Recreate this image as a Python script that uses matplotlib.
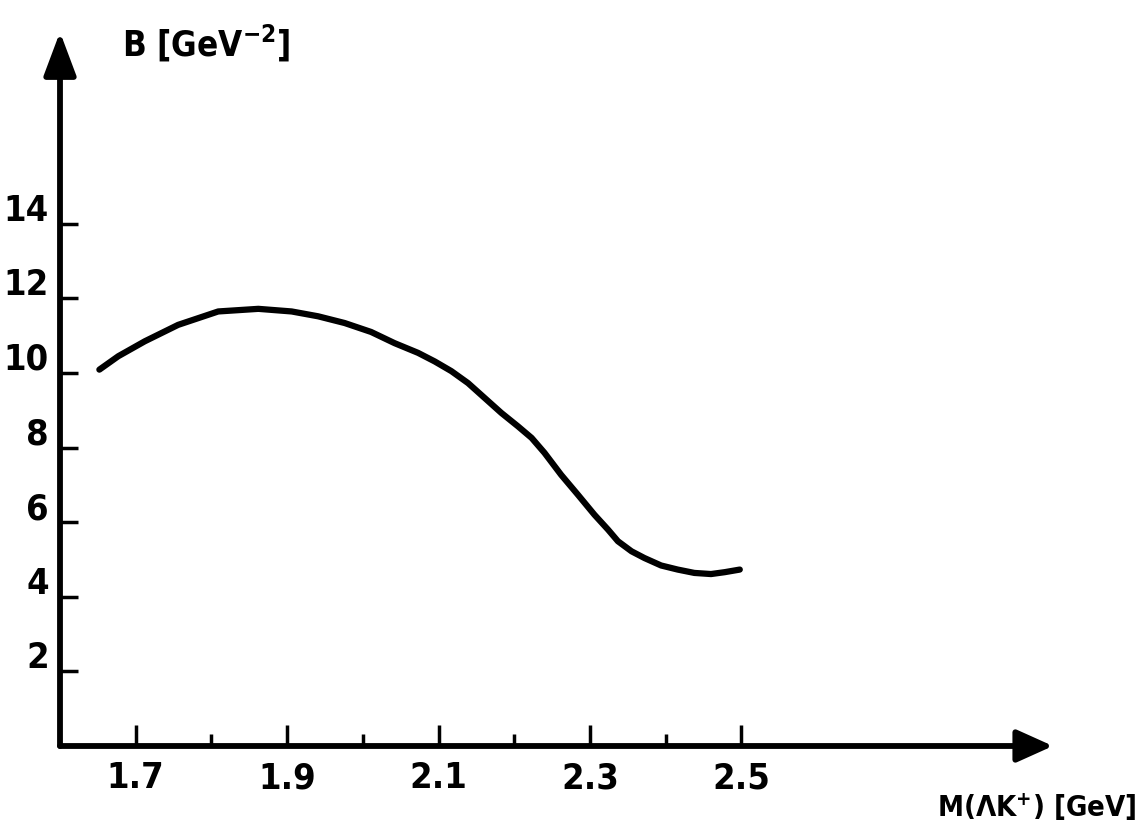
import matplotlib
matplotlib.use("Agg")
import matplotlib.pyplot as plt
from matplotlib.transforms import ScaledTranslation

# ---- data ----
mass = [1.652, 1.677, 1.712, 1.756, 1.809, 1.862, 1.906, 1.941, 1.976, 2.011,
        2.042, 2.073, 2.095, 2.117, 2.139, 2.161, 2.183, 2.205, 2.223, 2.240,
        2.262, 2.284, 2.306, 2.324, 2.337, 2.355, 2.372, 2.394, 2.416, 2.438,
        2.460, 2.478, 2.498]
slope_B = [10.09, 10.45, 10.85, 11.29, 11.65, 11.72, 11.65, 11.52, 11.34, 11.10,
           10.80, 10.54, 10.31, 10.05, 9.73, 9.33, 8.93, 8.57, 8.26, 7.86,
           7.27, 6.74, 6.20, 5.80, 5.49, 5.22, 5.04, 4.84, 4.73, 4.64,
           4.61, 4.66, 4.73]

x_major = [1.7, 1.9, 2.1, 2.3, 2.5]
x_major_labels = ["1.7", "1.9", "2.1", "2.3", "2.5"]
x_minor = [1.8, 2.0, 2.2, 2.4]
y_major = [2, 4, 6, 8, 10, 12, 14]
y_major_labels = ["2", "4", "6", "8", "10", "12", "14"]

plt.rcParams["font.family"] = ["DejaVu Sans"]
plt.rcParams["font.stretch"] = "condensed"
plt.rcParams["mathtext.fontset"] = "dejavusans"

W, H = 1145, 835
fig = plt.figure(figsize=(W / 100, H / 100), dpi=100)
fig.patch.set_facecolor("white")

left_px, right_px, bottom_px, top_px = 60, 1053, 746, 32
ax = fig.add_axes([left_px / W, 1 - bottom_px / H,
                   (right_px - left_px) / W, (bottom_px - top_px) / H])
ax.set_xlim(1.6, 1.6 + (right_px - left_px) / 757)
ax.set_ylim(0, (bottom_px - top_px) / 37.3)
for s in ax.spines.values():
    s.set_visible(False)
ax.set_facecolor("none")

# axes with arrow heads
ax.annotate("", xy=(1, 0), xytext=(0, 0), xycoords="axes fraction",
            textcoords="axes fraction",
            arrowprops=dict(arrowstyle="-|>,head_length=1.0,head_width=0.45",
                            lw=4.2, color="black", shrinkA=0, shrinkB=0,
                            mutation_scale=22))
ax.annotate("", xy=(0, 1), xytext=(0, 0), xycoords="axes fraction",
            textcoords="axes fraction",
            arrowprops=dict(arrowstyle="-|>,head_length=1.2,head_width=0.45",
                            lw=4.2, color="black", shrinkA=0, shrinkB=0,
                            mutation_scale=22))

# ticks
ax.set_xticks(x_major)
ax.set_xticks(x_minor, minor=True)
ax.set_yticks(y_major)
ax.tick_params(axis="x", which="major", direction="in", length=15, width=2.5,
               pad=11, labelsize=26)
ax.tick_params(axis="x", which="minor", direction="in", length=9, width=2.5)
ax.tick_params(axis="y", which="major", direction="in", length=13, width=2.5,
               pad=8, labelsize=26)
ax.set_xticklabels(x_major_labels, fontweight="bold")
ax.set_yticklabels(y_major_labels, fontweight="bold")
shift = ScaledTranslation(0, 12 / 72, fig.dpi_scale_trans)
for lab in ax.get_yticklabels():
    lab.set_transform(lab.get_transform() + shift)

# curve
ax.plot(mass, slope_B, color="black", lw=4.5, solid_capstyle="round",
        solid_joinstyle="round")

# axis titles
fig.text(1136 / W, 1 - 817 / H, "M(ΛK$^{\\mathbf{+}}$) [GeV]", fontsize=21,
         fontweight="bold", ha="right", va="baseline")
fig.text(122 / W, 1 - 57 / H, "B [GeV$^{\\mathbf{-2}}$]", fontsize=25,
         fontweight="bold", ha="left", va="baseline")

fig.savefig("out.png", dpi=100, facecolor="white")
